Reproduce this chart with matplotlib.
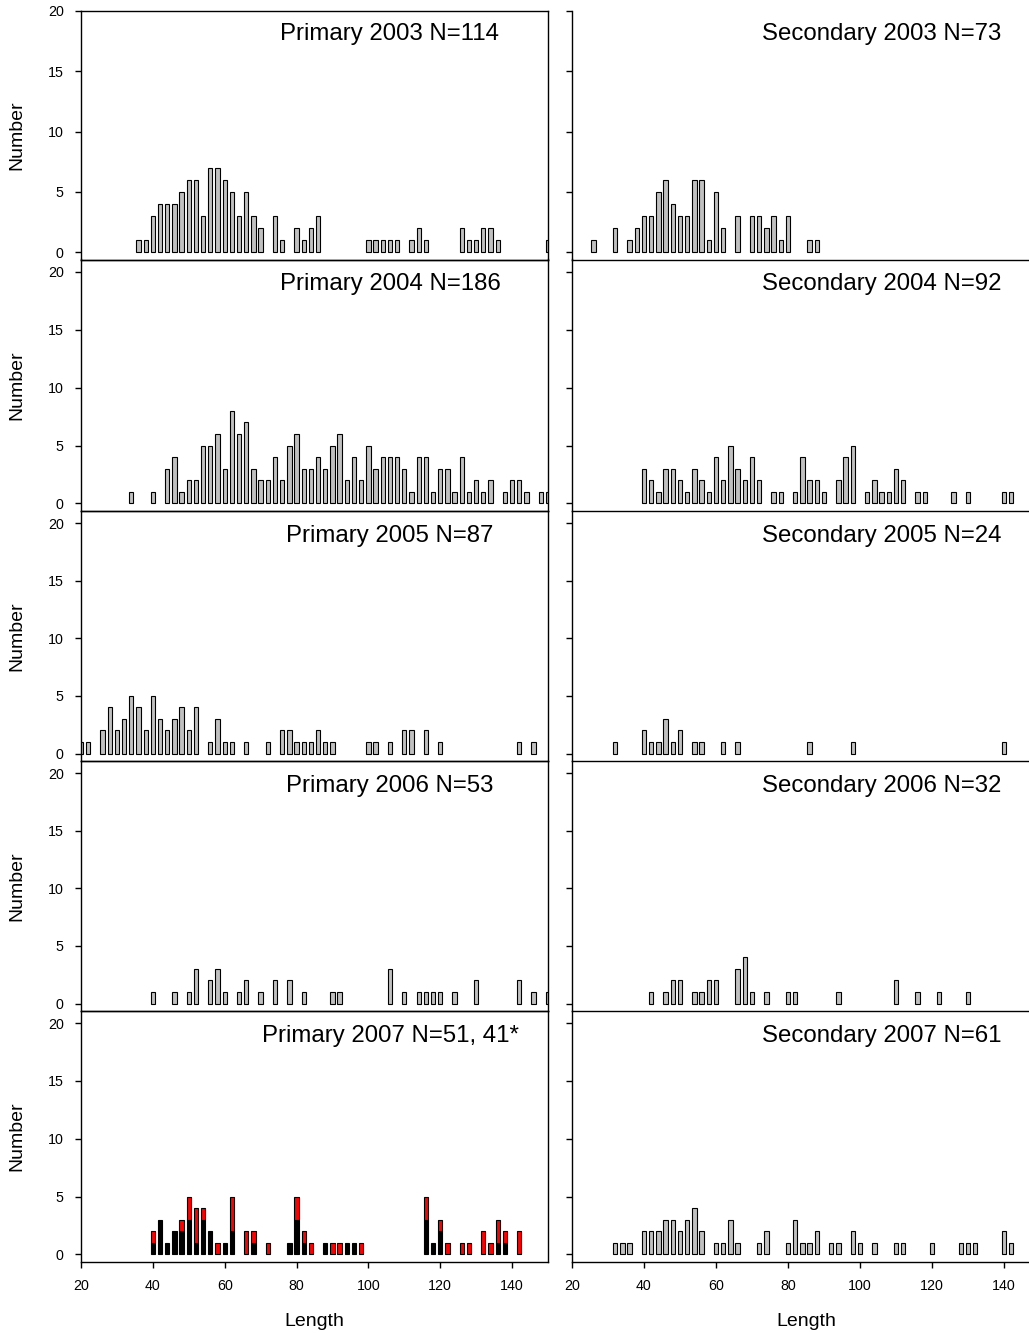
import matplotlib
matplotlib.use('Agg')
import matplotlib.pyplot as plt
import matplotlib.transforms as mtransforms
import numpy as np

plt.rcParams['font.family'] = ['Liberation Sans', 'DejaVu Sans']

# ---------------- data ----------------
p2003_len = [36, 38, 40, 42, 44, 46, 48, 50, 52, 54, 56, 58, 60, 62, 64, 66, 68, 70, 74, 76,
             80, 82, 84, 86, 100, 102, 104, 106, 108, 112, 114, 116, 126, 128, 130, 132, 134, 136, 150]
p2003_cnt = [1, 1, 3, 4, 4, 4, 5, 6, 6, 3, 7, 7, 6, 5, 3, 5, 3, 2, 3, 1,
             2, 1, 2, 3, 1, 1, 1, 1, 1, 1, 2, 1, 2, 1, 1, 2, 2, 1, 1]

s2003_len = [26, 32, 36, 38, 40, 42, 44, 46, 48, 50, 52, 54, 56, 58, 60, 62, 66, 70, 72, 74,
             76, 78, 80, 86, 88]
s2003_cnt = [1, 2, 1, 2, 3, 3, 5, 6, 4, 3, 3, 6, 6, 1, 5, 2, 3, 3, 3, 2,
             3, 1, 3, 1, 1]

p2004_len = [34, 40, 44, 46, 48, 50, 52, 54, 56, 58, 60, 62, 64, 66, 68, 70, 72, 74, 76, 78,
             80, 82, 84, 86, 88, 90, 92, 94, 96, 98, 100, 102, 104, 106, 108, 110, 112, 114, 116, 118,
             120, 122, 124, 126, 128, 130, 132, 134, 138, 140, 142, 144, 148, 150]
p2004_cnt = [1, 1, 3, 4, 1, 2, 2, 5, 5, 6, 3, 8, 6, 7, 3, 2, 2, 4, 2, 5,
             6, 3, 3, 4, 3, 5, 6, 2, 4, 2, 5, 3, 4, 4, 4, 3, 1, 4, 4, 1,
             3, 3, 1, 4, 1, 2, 1, 2, 1, 2, 2, 1, 1, 1]

s2004_len = [40, 42, 44, 46, 48, 50, 52, 54, 56, 58, 60, 62, 64, 66, 68, 70, 72, 76, 78, 82,
             84, 86, 88, 90, 94, 96, 98, 102, 104, 106, 108, 110, 112, 116, 118, 126, 130, 140, 142]
s2004_cnt = [3, 2, 1, 3, 3, 2, 1, 3, 2, 1, 4, 2, 5, 3, 2, 4, 2, 1, 1, 1,
             4, 2, 2, 1, 2, 4, 5, 1, 2, 1, 1, 3, 2, 1, 1, 1, 1, 1, 1]

p2005_len = [20, 22, 26, 28, 30, 32, 34, 36, 38, 40, 42, 44, 46, 48, 50, 52, 56, 58, 60, 62,
             66, 72, 76, 78, 80, 82, 84, 86, 88, 90, 100, 102, 106, 110, 112, 116, 120, 142, 146]
p2005_cnt = [1, 1, 2, 4, 2, 3, 5, 4, 2, 5, 3, 2, 3, 4, 2, 4, 1, 3, 1, 1,
             1, 1, 2, 2, 1, 1, 1, 2, 1, 1, 1, 1, 1, 2, 2, 2, 1, 1, 1]

s2005_len = [32, 40, 42, 44, 46, 48, 50, 54, 56, 62, 66, 86, 98, 140]
s2005_cnt = [1, 2, 1, 1, 3, 1, 2, 1, 1, 1, 1, 1, 1, 1]

p2006_len = [40, 46, 50, 52, 56, 58, 60, 64, 66, 70, 74, 78, 82, 90, 92, 106, 110, 114, 116, 118,
             120, 124, 130, 142, 146, 150]
p2006_cnt = [1, 1, 1, 3, 2, 3, 1, 1, 2, 1, 2, 2, 1, 1, 1, 3, 1, 1, 1, 1,
             1, 1, 2, 2, 1, 1]

s2006_len = [42, 46, 48, 50, 54, 56, 58, 60, 66, 68, 70, 74, 80, 82, 94, 110, 116, 122, 130]
s2006_cnt = [1, 1, 2, 2, 1, 1, 2, 2, 3, 4, 1, 1, 1, 1, 1, 2, 1, 1, 1]

p2007_len = [40, 42, 44, 46, 48, 50, 52, 54, 56, 58, 60, 62, 66, 68, 72, 78, 80, 82, 84, 88,
             90, 92, 94, 96, 98, 116, 118, 120, 122, 126, 128, 132, 134, 136, 138, 142]
p2007_black = [1, 3, 1, 2, 2, 3, 1, 3, 2, 0, 1, 2, 0, 1, 0, 1, 3, 1, 0, 1,
               0, 0, 1, 1, 0, 3, 1, 2, 0, 0, 0, 0, 0, 1, 1, 0]
p2007_red = [1, 0, 0, 0, 1, 2, 3, 1, 0, 1, 0, 3, 2, 1, 1, 0, 2, 1, 1, 0,
             1, 1, 0, 0, 1, 2, 0, 1, 1, 1, 1, 2, 1, 2, 1, 2]

s2007_len = [32, 34, 36, 40, 42, 44, 46, 48, 50, 52, 54, 56, 60, 62, 64, 66, 72, 74, 80, 82,
             84, 86, 88, 92, 94, 98, 100, 104, 110, 112, 120, 128, 130, 132, 140, 142]
s2007_cnt = [1, 1, 1, 2, 2, 2, 3, 3, 2, 3, 4, 2, 1, 1, 3, 1, 1, 2, 1, 3,
             1, 1, 2, 1, 1, 2, 1, 1, 1, 1, 1, 1, 1, 1, 2, 1]

titles_primary = ["Primary 2003 N=114", "Primary 2004 N=186", "Primary 2005 N=87",
                  "Primary 2006 N=53", "Primary 2007 N=51, 41*"]
titles_secondary = ["Secondary 2003 N=73", "Secondary 2004 N=92", "Secondary 2005 N=24",
                    "Secondary 2006 N=32", "Secondary 2007 N=61"]

x_ticks = [20, 40, 60, 80, 100, 120, 140]
y_ticks = [0, 5, 10, 15, 20]

# ---------------- layout ----------------
W, H = 1029, 1333
fig = plt.figure(figsize=(W / 100, H / 100), dpi=100)
row_tops = [11, 259.5, 511, 761, 1011]
row_bots = [259.5, 511, 761, 1011, 1262]
col_left = [81, 572]
col_width = [467, 468]

GRAY = '#c0c0c0'
BW = 1.2
EW = 0.8

primary = [(p2003_len, p2003_cnt), (p2004_len, p2004_cnt), (p2005_len, p2005_cnt),
           (p2006_len, p2006_cnt), None]
secondary = [(s2003_len, s2003_cnt), (s2004_len, s2004_cnt), (s2005_len, s2005_cnt),
             (s2006_len, s2006_cnt), (s2007_len, s2007_cnt)]


def style_axis(ax, r, c):
    ax.set_xlim(20, 150)
    if r == 0:
        ax.set_ylim(-0.6, 20)
    else:
        ax.set_ylim(-0.65, 21.05)
    ax.set_yticks(y_ticks)
    ax.set_xticks(x_ticks)
    for s in ax.spines.values():
        s.set_linewidth(1.0)
    ax.tick_params(axis='y', direction='out', length=4.5, width=1.0, labelsize=10.3, pad=8)
    ax.tick_params(axis='x', direction='out', length=4.5, width=1.0, labelsize=10.3, pad=8)
    if c == 1:
        ax.spines['top'].set_visible(False)
        ax.spines['right'].set_visible(False)
        ax.tick_params(axis='y', labelleft=False)
    if r < 4:
        ax.tick_params(axis='x', bottom=False, labelbottom=False)
    ax.patch.set_alpha(0)


for r in range(5):
    for c in range(2):
        ax = fig.add_axes([col_left[c] / W, 1 - row_bots[r] / H, col_width[c] / W,
                           (row_bots[r] - row_tops[r]) / H])
        style_axis(ax, r, c)
        if c == 0 and r == 4:
            L = np.array(p2007_len)
            b = np.array(p2007_black)
            rd = np.array(p2007_red)
            mb = b > 0
            ax.bar(L[mb], b[mb], width=BW, color='black', edgecolor='black', linewidth=EW)
            mr = rd > 0
            ax.bar(L[mr], rd[mr], bottom=b[mr], width=BW, color='#ff0000',
                   edgecolor='black', linewidth=EW)
        else:
            data = primary[r] if c == 0 else secondary[r]
            ax.bar(data[0], data[1], width=BW, color=GRAY, edgecolor='black', linewidth=EW)
        title = titles_primary[r] if c == 0 else titles_secondary[r]
        trans = mtransforms.blended_transform_factory(ax.transData, ax.transAxes)
        yfrac = 0.909 if r == 0 else 0.901
        ax.text(106, yfrac, title, transform=trans, ha='center', va='center', fontsize=17.3)
        if c == 0:
            yc = (row_tops[r] + row_bots[r]) / 2
            fig.text(17 / W, 1 - yc / H, 'Number', rotation=90, ha='center', va='center',
                     fontsize=14)
        if r == 4:
            xc = col_left[c] + col_width[c] / 2
            fig.text(xc / W, 1 - 1322 / H, 'Length', ha='center', va='center', fontsize=14)

fig.savefig('out.png', dpi=100)
